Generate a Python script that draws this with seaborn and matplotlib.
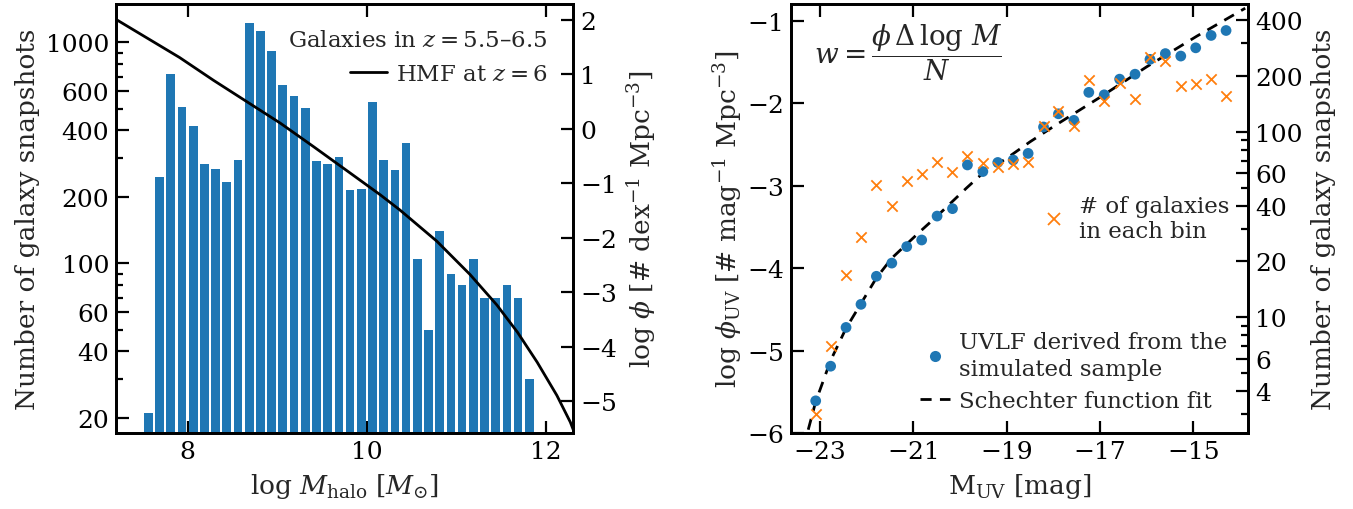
import numpy as np
import pandas as pd
import matplotlib
matplotlib.use('Agg')
import matplotlib.pyplot as plt
import seaborn as sns
from matplotlib.lines import Line2D
from matplotlib.ticker import FixedLocator, LogLocator, NullFormatter, FixedFormatter

# ---- left panel: halo masses of the galaxy snapshots (z = 5.5-6.5)
halo_bin_lo = 7.5
halo_bin_width = 0.125
halo_counts = [21, 246, 717, 510, 419, 283, 268, 234, 294, 1223, 1125, 914, 642, 572, 505,
               291, 283, 303, 215, 218, 538, 294, 265, 351, 105, 50, 140, 90, 80, 105,
               70, 70, 80, 70, 30]

# halo mass function at z = 6
hmf_logm = [7.19, 7.91, 8.29, 8.66, 9.03, 9.40, 9.78, 10.15, 10.37, 10.78, 11.15, 11.45,
            11.68, 11.90, 12.12, 12.27, 12.31]
hmf_logphi = [2.02, 1.31, 0.89, 0.50, 0.11, -0.32, -0.77, -1.21, -1.49, -2.06, -2.67, -3.23,
              -3.73, -4.28, -4.89, -5.38, -5.55]

# ---- right panel: UV luminosity function
muv = [-23.09, -22.77, -22.44, -22.12, -21.79, -21.46, -21.14, -20.82, -20.49, -20.16,
       -19.84, -19.51, -19.19, -18.86, -18.54, -18.21, -17.89, -17.56, -17.24, -16.91,
       -16.58, -16.25, -15.93, -15.60, -15.27, -14.95, -14.62, -14.30]
uvlf_logphi = [-5.61, -5.19, -4.72, -4.44, -4.10, -3.94, -3.74, -3.66, -3.37, -3.28,
               -2.75, -2.83, -2.72, -2.69, -2.61, -2.29, -2.13, -2.21, -1.87, -1.90,
               -1.71, -1.65, -1.47, -1.40, -1.43, -1.33, -1.18, -1.12]
n_gal = [3, 7, 17, 27, 52, 40, 54, 59, 69, 61, 74, 68, 65, 67, 69, 108, 129, 107,
         191, 146, 184, 151, 254, 241, 176, 180, 192, 156]

# Schechter function fit
fit_muv = [-23.25, -23.09, -22.77, -22.44, -22.12, -21.79, -21.46, -20.86, -20.49, -19.86,
           -19.51, -19.0, -18.5, -17.93, -17.0, -16.0, -14.93, -13.89]
fit_logphi = [-5.96, -5.62, -5.12, -4.73, -4.43, -4.12, -3.88, -3.56, -3.37, -3.03,
              -2.85, -2.67, -2.47, -2.26, -1.93, -1.56, -1.19, -0.85]

sns.set_theme(style='ticks')
plt.rcParams['font.family'] = ['DejaVu Serif']
plt.rcParams['mathtext.fontset'] = 'dejavuserif'
plt.rcParams['axes.linewidth'] = 2.0
plt.rcParams['axes.edgecolor'] = 'black'

blue = '#1f77b4'
orange = '#ff7f0e'
tick_fs = 18
label_fs = 19
leg_fs = 16.5


def style_ticks(a):
    a.tick_params(which='both', direction='in', width=1.6, colors='black', labelsize=tick_fs, pad=5)
    a.tick_params(which='major', length=9)
    a.tick_params(which='minor', length=5)


fig = plt.figure(figsize=(13.53, 5.10), dpi=100)
ax = fig.add_axes([0.0857, 0.149, 0.3378, 0.841])
ax2 = fig.add_axes([0.5846, 0.149, 0.3378, 0.841])

# ---------------- left panel
nb = len(halo_counts)
halo_df = pd.DataFrame({'logm': halo_bin_lo + halo_bin_width * (np.arange(nb) + 0.5),
                        'n': halo_counts})
ax.set_yscale('log')
sns.histplot(data=halo_df, x='logm', weights='n', binwidth=halo_bin_width,
             binrange=(halo_bin_lo, halo_bin_lo + nb * halo_bin_width), ax=ax, color=blue,
             alpha=1, linewidth=0, shrink=0.78)
ax.set_xlim(7.2, 12.3)
ax.set_ylim(17.1, 1490)
ax.set_xticks([8, 10, 12])
ax.yaxis.set_major_locator(FixedLocator([20, 40, 60, 100, 200, 400, 600, 1000]))
ax.yaxis.set_major_formatter(FixedFormatter(['20', '40', '60', '100', '200', '400', '600', '1000']))
ax.yaxis.set_minor_locator(LogLocator(base=10, subs=np.arange(2, 10)))
ax.yaxis.set_minor_formatter(NullFormatter())
style_ticks(ax)
ax.tick_params(axis='x', top=True, bottom=True)
ax.tick_params(axis='y', left=True, right=False)
ax.set_xlabel(r'$\log\,M_{\rm halo}\ [M_{\odot}]$', fontsize=label_fs, labelpad=6)
ax.set_ylabel('Number of galaxy snapshots', fontsize=label_fs, labelpad=4)

tw = ax.twinx()
sns.lineplot(x=hmf_logm, y=hmf_logphi, ax=tw, color='black', lw=2, legend=False)
tw.set_ylim(-5.58, 2.29)
tw.set_yticks([-5, -4, -3, -2, -1, 0, 1, 2])
tw.set_xlim(7.2, 12.3)
style_ticks(tw)
tw.tick_params(axis='y', right=True, left=False)
tw.set_ylabel(r'$\log\,\phi\ [\#\ \mathrm{dex}^{-1}\ \mathrm{Mpc}^{-3}]$', fontsize=label_fs, labelpad=6)
tw.legend(handles=[Line2D([], [], color='black', lw=2)], labels=[r'HMF at $z = 6$'],
          title=r'Galaxies in $z = 5.5$–$6.5$', title_fontsize=leg_fs, fontsize=leg_fs,
          alignment='right', loc='upper right', frameon=False, handlelength=1.6,
          handletextpad=0.4, borderaxespad=0.7, borderpad=0.4)

# ---------------- right panel
sns.lineplot(x=fit_muv, y=fit_logphi, ax=ax2, color='black', lw=2, linestyle=(0, (4, 3)),
             legend=False, zorder=3)
sns.scatterplot(x=muv, y=uvlf_logphi, ax=ax2, color=blue, s=60, edgecolor='none', zorder=4,
                legend=False)
ax2.set_xlim(-23.62, -13.83)
ax2.set_ylim(-6, -0.8)
ax2.set_xticks([-23, -21, -19, -17, -15])
ax2.set_yticks([-6, -5, -4, -3, -2, -1])
style_ticks(ax2)
ax2.tick_params(axis='x', top=True, bottom=True)
ax2.tick_params(axis='y', left=True, right=False)
ax2.set_xlabel(r'$\mathrm{M}_{\rm UV}$ [mag]', fontsize=label_fs, labelpad=6)
ax2.set_ylabel(r'$\log\,\phi_{\rm UV}\ [\#\ \mathrm{mag}^{-1}\ \mathrm{Mpc}^{-3}]$', fontsize=label_fs,
               labelpad=2)
ax2.text(0.05, 0.89, r'$w = \dfrac{\phi\,\Delta\,\log\,M}{N}$', transform=ax2.transAxes,
         fontsize=20, va='center', ha='left')

tw2 = ax2.twinx()
sns.scatterplot(x=muv, y=n_gal, ax=tw2, color=orange, marker='x', s=55, linewidth=1.3,
                legend=False)
tw2.set_yscale('log')
tw2.set_ylim(2.38, 488)
tw2.set_xlim(-23.62, -13.83)
tw2.yaxis.set_major_locator(FixedLocator([4, 6, 10, 20, 40, 60, 100, 200, 400]))
tw2.yaxis.set_major_formatter(FixedFormatter(['4', '6', '10', '20', '40', '60', '100', '200', '400']))
tw2.yaxis.set_minor_locator(LogLocator(base=10, subs=np.arange(2, 10)))
tw2.yaxis.set_minor_formatter(NullFormatter())
style_ticks(tw2)
tw2.tick_params(axis='y', right=True, left=False)
tw2.set_ylabel('Number of galaxy snapshots', fontsize=label_fs, labelpad=6)

h_pts = Line2D([], [], color=blue, marker='o', ls='none', markersize=8, markeredgewidth=0)
h_fit = Line2D([], [], color='black', ls=(0, (4, 3)), lw=2)
leg1 = tw2.legend(handles=[h_pts, h_fit],
                  labels=['UVLF derived from the\nsimulated sample', 'Schechter function fit'],
                  loc='lower right', frameon=False, fontsize=leg_fs, handlelength=1.3,
                  handletextpad=0.4, borderaxespad=0.5, labelspacing=0.45)
for t in leg1.get_texts():
    t.set_linespacing(1.3)
tw2.add_artist(leg1)
h_n = Line2D([], [], color=orange, marker='x', ls='none', markersize=8, markeredgewidth=1.3)
tw2.legend(handles=[h_n], labels=['# of galaxies\nin each bin'], loc='center right',
           bbox_to_anchor=(1.0, 0.5), frameon=False, fontsize=leg_fs, handlelength=1.0,
           handletextpad=0.6, borderaxespad=0.4)

fig.savefig('out.png', dpi=100)
